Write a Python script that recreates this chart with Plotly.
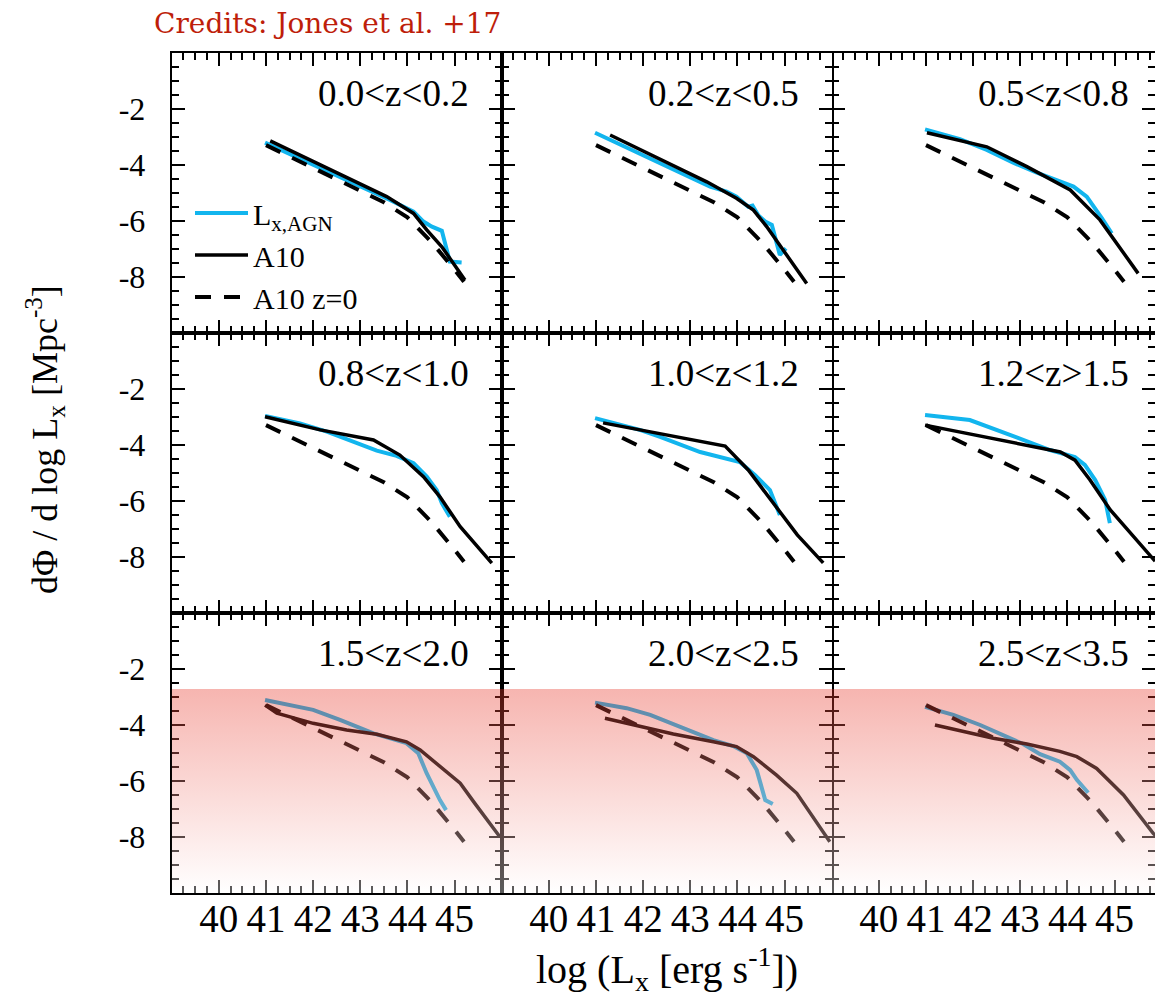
import base64
import plotly.graph_objects as go

# ---------------------------------------------------------------- data
z_labels = ["0.0<z<0.2", "0.2<z<0.5", "0.5<z<0.8",
            "0.8<z<1.0", "1.0<z<1.2", "1.2<z>1.5",
            "1.5<z<2.0", "2.0<z<2.5", "2.5<z<3.5"]

# A10 local (z=0) XLF, identical in every panel
a10_z0_x = [41.0, 41.5, 42.0, 42.5, 43.0, 43.5, 44.0, 44.5, 45.0, 45.2]
a10_z0_y = [-3.29, -3.70, -4.10, -4.51, -4.91, -5.33, -5.87, -6.73, -7.74, -8.17]

# L_x,AGN luminosity function per redshift bin
agn_x = [
    [40.98, 42.1, 43.28, 43.63, 44.13, 44.34, 44.52, 44.73, 44.90, 45.15],
    [40.98, 43.42, 43.77, 43.98, 44.23, 44.32, 44.44, 44.59, 44.73, 44.90, 45.03],
    [40.98, 41.72, 42.29, 42.85, 43.35, 43.77, 44.13, 44.41, 44.59, 44.73, 44.94],
    [40.98, 41.72, 42.29, 42.85, 43.35, 43.77, 44.13, 44.41, 44.62, 44.73, 44.90],
    [40.98, 41.93, 42.36, 43.21, 44.05, 44.37, 44.69, 44.90],
    [40.98, 41.93, 42.78, 43.63, 44.16, 44.37, 44.59, 44.80, 44.90],
    [40.98, 42.0, 42.57, 43.28, 43.98, 44.23, 44.41, 44.69, 44.82],
    [40.98, 41.65, 42.15, 42.78, 43.21, 43.49, 43.91, 44.20, 44.41, 44.59, 44.75],
    [40.98, 41.58, 42.15, 42.71, 43.06, 43.42, 43.84, 44.06, 44.20, 44.44],
]
agn_y = [
    [-3.20, -4.05, -4.95, -5.25, -5.67, -6.02, -6.20, -6.35, -7.45, -7.48],
    [-2.85, -4.77, -4.95, -5.13, -5.49, -5.45, -5.79, -6.02, -6.14, -7.21, -6.98],
    [-2.73, -3.08, -3.46, -3.92, -4.27, -4.54, -4.77, -5.13, -5.55, -5.90, -6.44],
    [-2.96, -3.23, -3.52, -3.88, -4.20, -4.39, -4.65, -5.13, -5.61, -6.08, -6.56],
    [-3.04, -3.46, -3.71, -4.25, -4.61, -5.07, -5.61, -6.50],
    [-2.93, -3.11, -3.64, -4.18, -4.43, -4.71, -5.25, -5.96, -6.79],
    [-3.11, -3.46, -3.82, -4.30, -4.65, -5.01, -5.73, -6.68, -7.04],
    [-3.20, -3.40, -3.64, -4.06, -4.32, -4.54, -4.75, -5.01, -5.61, -6.68, -6.82],
    [-3.35, -3.64, -4.00, -4.42, -4.68, -5.04, -5.31, -5.61, -5.96, -6.42],
]

# A10 evolving XLF per redshift bin
a10_x = [
    [41.09, 43.56, 44.13, 44.41, 44.73, 45.22],
    [41.30, 43.35, 43.98, 44.34, 44.62, 45.47],
    [41.02, 42.29, 43.14, 44.06, 44.69, 45.50],
    [40.98, 42.15, 43.28, 43.84, 44.34, 44.69, 45.12, 45.79],
    [41.15, 43.74, 44.23, 44.70, 45.27, 45.82],
    [40.98, 42.57, 43.85, 44.16, 44.48, 44.91, 45.86],
    [40.98, 41.23, 42.0, 42.71, 43.35, 43.98, 44.27, 44.69, 45.12, 45.43, 45.96],
    [41.19, 41.93, 42.64, 43.49, 43.98, 44.34, 44.83, 45.26, 45.96],
    [41.19, 41.72, 42.43, 43.14, 43.84, 44.20, 44.62, 45.19, 45.82, 46.0],
]
a10_y = [
    [-3.14, -5.13, -5.73, -6.32, -6.92, -8.11],
    [-2.93, -4.60, -5.19, -5.61, -6.20, -8.23],
    [-2.85, -3.35, -4.06, -4.89, -5.96, -7.87],
    [-2.99, -3.46, -3.82, -4.36, -5.13, -5.85, -6.92, -8.22],
    [-3.21, -4.04, -4.89, -5.96, -7.21, -8.21],
    [-3.29, -3.82, -4.25, -4.54, -5.25, -6.32, -8.15],
    [-3.29, -3.58, -3.94, -4.18, -4.33, -4.60, -4.89, -5.49, -6.08, -6.80, -7.99],
    [-3.76, -4.06, -4.32, -4.60, -4.77, -5.13, -5.79, -6.44, -8.17],
    [-4.00, -4.20, -4.47, -4.68, -4.94, -5.13, -5.55, -6.50, -7.87, -8.15],
]

x_ticks = [40, 41, 42, 43, 44, 45, 46]
x_tick_text = ["40", "41", "42", "43", "44", "45", ""]
y_ticks = [-8, -6, -4, -2]
y_tick_text = ["-8", "-6", "-4", "-2"]

# ---------------------------------------------------------------- layout geometry (px)
W, H = 1155, 1000
COL_LEFT = [171.7, 501.7, 831.7]
COL_W = 330.0          # 7 dex of log L_x per panel
PX_PER_DEX = COL_W / 7.0
ROW_TOP = [53.0, 333.0, 613.0]
ROW_H = 280.0

SERIF = "Liberation Serif"
CYAN = "#12b5ee"

fig = go.Figure()

for i in range(9):
    r, c = divmod(i, 3)
    sfx = "" if i == 0 else str(i + 1)
    xa, ya = "x" + sfx, "y" + sfx
    first = i == 0
    fig.add_trace(go.Scatter(
        x=agn_x[i], y=agn_y[i], xaxis=xa, yaxis=ya, mode="lines",
        line=dict(color=CYAN, width=4), name="L<sub>x,AGN</sub>",
        legendgroup="agn", showlegend=first))
    fig.add_trace(go.Scatter(
        x=a10_x[i], y=a10_y[i], xaxis=xa, yaxis=ya, mode="lines",
        line=dict(color="black", width=3.5), name="A10",
        legendgroup="a10", showlegend=first))
    fig.add_trace(go.Scatter(
        x=a10_z0_x, y=a10_z0_y, xaxis=xa, yaxis=ya, mode="lines",
        line=dict(color="black", width=4, dash="16px,13px"), name="A10 z=0",
        legendgroup="a10z0", showlegend=first))

    # the right-hand column runs past the page edge, so its visible range is shorter
    right_px = min(COL_LEFT[c] + COL_W, W)
    x_hi = 39 + (right_px - COL_LEFT[c]) / PX_PER_DEX
    x0 = COL_LEFT[c] / W
    x1 = right_px / W
    y1 = 1 - ROW_TOP[r] / H
    y0 = 1 - (ROW_TOP[r] + ROW_H) / H

    common = dict(linewidth=2, linecolor="black",
                  mirror="allticks", ticks="inside", tickwidth=2,
                  tickcolor="black", showgrid=False, zeroline=False)
    fig.layout["xaxis" + sfx] = dict(
        domain=[x0, x1], range=[39, x_hi], anchor=ya, showline=True,
        tickmode="array", tickvals=x_ticks, ticktext=x_tick_text, ticklen=13,
        showticklabels=(r == 2), ticklabelstandoff=-10,
        tickfont=dict(family=SERIF, size=39, color="black"),
        minor=dict(dtick=0.25, tick0=39, ticklen=7, tickwidth=2,
                   tickcolor="black", ticks="inside"),
        **common)
    fig.layout["yaxis" + sfx] = dict(
        domain=[y0, y1], range=[-10, 0], anchor=xa, showline=(c < 2),
        tickmode="array", tickvals=y_ticks, ticktext=y_tick_text, ticklen=13,
        showticklabels=(c == 0), ticklabelstandoff=18,
        tickfont=dict(family=SERIF, size=32, color="black"),
        minor=dict(dtick=0.5, tick0=0, ticklen=7, tickwidth=2,
                   tickcolor="black", ticks="inside"),
        **common)

    fig.add_annotation(
        text=z_labels[i].replace("<", "&lt;").replace(">", "&gt;"),
        xref="paper", yref=ya + " domain",
        x=(COL_LEFT[c] + 0.907 * COL_W) / W, y=0.857,
        xanchor="right", yanchor="middle", showarrow=False,
        font=dict(family=SERIF, size=37, color="black"))

# shared axis titles
fig.add_annotation(
    text="log (L<sub>x</sub> [erg s<sup>-1</sup>])", xref="paper", yref="paper",
    x=(COL_LEFT[1] + COL_W / 2) / W, y=1 - 969 / H, xanchor="center", yanchor="middle",
    showarrow=False, font=dict(family=SERIF, size=40, color="black"))
fig.add_annotation(
    text="d\u03a6 / d log L<sub>x</sub> [Mpc<sup>-3</sup>]", xref="paper", yref="paper",
    x=45 / W, y=1 - 440 / H, xanchor="center", yanchor="middle", textangle=-90,
    showarrow=False, font=dict(family=SERIF, size=36, color="black"))

# credit line
fig.add_annotation(
    text="Credits: Jones et al. +17", xref="paper", yref="paper",
    x=152 / W, y=1 - 23 / H, xanchor="left", yanchor="middle", showarrow=False,
    font=dict(family="DejaVu Serif", size=28, color="#be1e0a"))

# translucent red band over the high-redshift row, fading downwards
band_top, band_bot = 689.0, 893.0
svg = ('<svg xmlns="http://www.w3.org/2000/svg" width="100" height="100" '
       'viewBox="0 0 100 100" preserveAspectRatio="none">'
       '<defs><linearGradient id="g" x1="0" y1="0" x2="0" y2="1">'
       '<stop offset="0" stop-color="rgb(231,49,35)" stop-opacity="0.36"/>'
       '<stop offset="1" stop-color="rgb(255,255,255)" stop-opacity="0.36"/>'
       '</linearGradient></defs>'
       '<rect x="0" y="0" width="100" height="100" fill="url(#g)"/></svg>')
fig.add_layout_image(
    source="data:image/svg+xml;base64," + base64.b64encode(svg.encode()).decode(),
    xref="paper", yref="paper", x=COL_LEFT[0] / W, y=1 - band_top / H,
    sizex=(W - COL_LEFT[0]) / W, sizey=(band_bot - band_top) / H,
    xanchor="left", yanchor="top", sizing="stretch", layer="above")

fig.update_layout(
    width=W, height=H, margin=dict(l=0, r=0, t=0, b=0),
    paper_bgcolor="white", plot_bgcolor="white",
    showlegend=True,
    legend=dict(x=190 / W, y=1 - 187 / H, xanchor="left", yanchor="top",
                bgcolor="rgba(0,0,0,0)", borderwidth=0, itemwidth=53,
                font=dict(family=SERIF, size=30, color="black"),
                tracegroupgap=0),
)

fig.write_html("out.html")
